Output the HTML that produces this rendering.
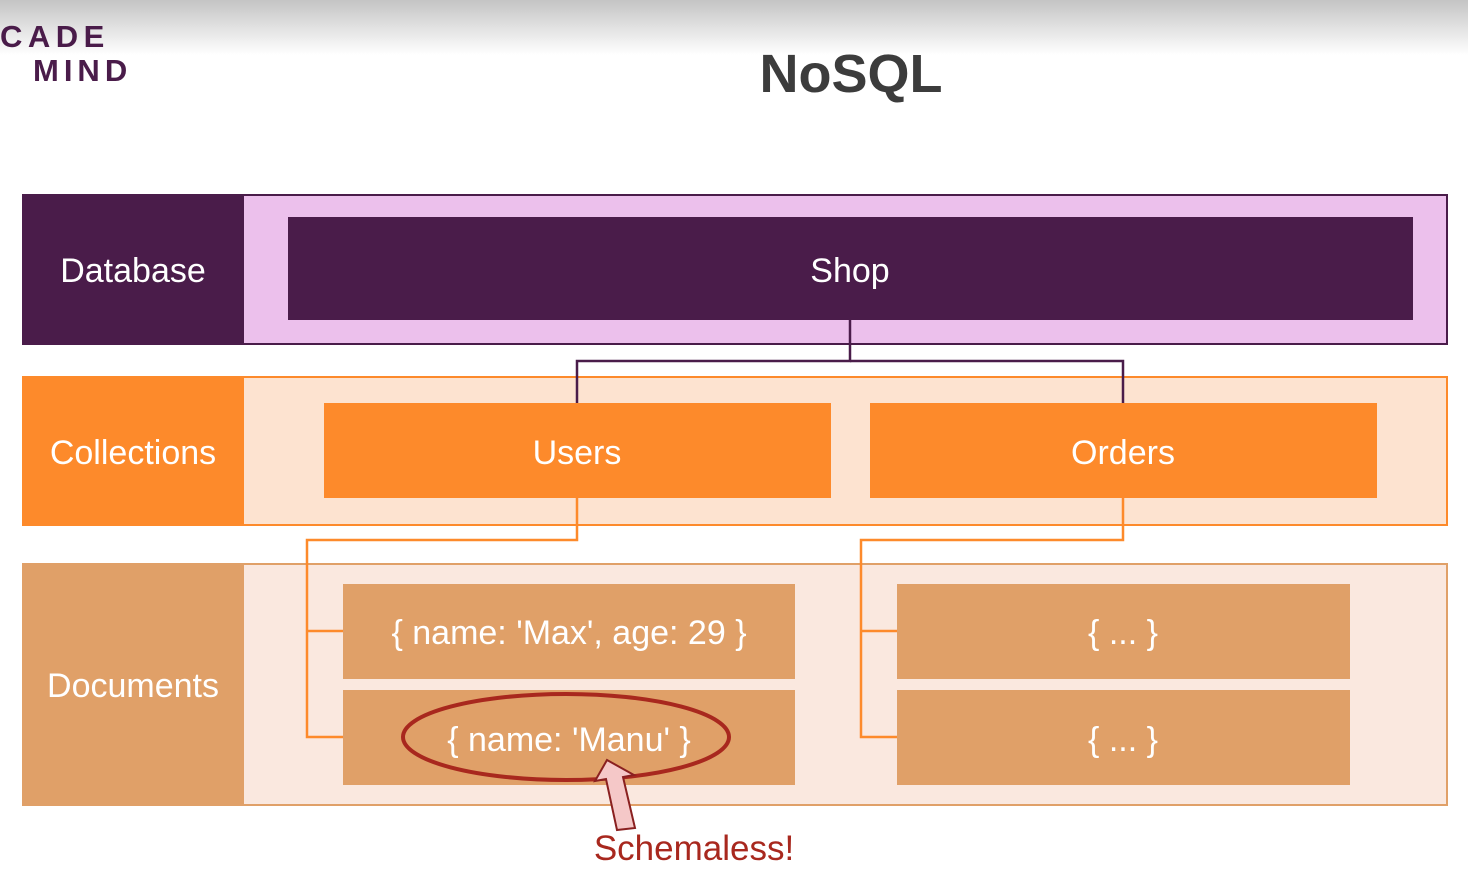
<!DOCTYPE html>
<html><head><style>
html,body{margin:0;padding:0;background:#fff;}
svg{display:block;}
text{font-family:"Liberation Sans",sans-serif;}
</style></head><body>
<svg width="1468" height="878" viewBox="0 0 1468 878" xmlns="http://www.w3.org/2000/svg">
<defs><linearGradient id="g" x1="0" y1="0" x2="0" y2="1"><stop offset="0" stop-color="#c4c4c4"/><stop offset="1" stop-color="#ffffff"/></linearGradient></defs>
<rect x="0" y="0" width="1468" height="55" fill="url(#g)"/>
<text x="0" y="47" font-size="31" font-weight="bold" fill="#4a1c4a" letter-spacing="5.5">CADE</text>
<text x="33" y="81" font-size="31" font-weight="bold" fill="#4a1c4a" letter-spacing="5">MIND</text>
<text x="851" y="92" font-size="54" font-weight="bold" fill="#3c3c3c" text-anchor="middle">NoSQL</text>

<rect x="23" y="195" width="1424" height="149" fill="#ecc0ec" stroke="#4a1c4a" stroke-width="2"/>
<rect x="22" y="194" width="222" height="151" fill="#4a1c4a"/>
<text x="133" y="282" font-size="34" fill="#fff" text-anchor="middle">Database</text>
<rect x="288" y="217" width="1125" height="103" fill="#4a1c4a"/>
<text x="850" y="282" font-size="34" fill="#fff" text-anchor="middle">Shop</text>

<rect x="23" y="377" width="1424" height="148" fill="#fde3d0" stroke="#fd8a2b" stroke-width="2"/>
<rect x="22" y="376" width="222" height="150" fill="#fd8a2b"/>
<text x="133" y="464" font-size="34" fill="#fff" text-anchor="middle">Collections</text>
<polyline points="850,320 850,361 577,361 577,403" fill="none" stroke="#4a1c4a" stroke-width="2.5"/>
<polyline points="850,361 1123,361 1123,403" fill="none" stroke="#4a1c4a" stroke-width="2.5"/>
<rect x="324" y="403" width="507" height="95" fill="#fd8a2b"/>
<text x="577" y="464" font-size="34" fill="#fff" text-anchor="middle">Users</text>
<rect x="870" y="403" width="507" height="95" fill="#fd8a2b"/>
<text x="1123" y="464" font-size="34" fill="#fff" text-anchor="middle">Orders</text>

<rect x="23" y="564" width="1424" height="241" fill="#fae8df" stroke="#e0a068" stroke-width="2"/>
<rect x="22" y="563" width="222" height="243" fill="#e0a068"/>
<text x="133" y="697" font-size="34" fill="#fff" text-anchor="middle">Documents</text>
<g fill="none" stroke="#fd8a2b" stroke-width="2.5">
<polyline points="577,498 577,540 307,540 307,737 343,737"/>
<polyline points="307,631 343,631"/>
<polyline points="1123,498 1123,540 861,540 861,737 897,737"/>
<polyline points="861,631 897,631"/>
</g>
<rect x="343" y="584" width="452" height="95" fill="#e0a068"/>
<text x="569" y="644" font-size="34" fill="#fff" text-anchor="middle">{ name: 'Max', age: 29 }</text>
<rect x="343" y="690" width="452" height="95" fill="#e0a068"/>
<text x="569" y="751" font-size="34" fill="#fff" text-anchor="middle">{ name: 'Manu' }</text>
<rect x="897" y="584" width="453" height="95" fill="#e0a068"/>
<text x="1123" y="644" font-size="34" fill="#fff" text-anchor="middle">{ ... }</text>
<rect x="897" y="690" width="453" height="95" fill="#e0a068"/>
<text x="1123" y="751" font-size="34" fill="#fff" text-anchor="middle">{ ... }</text>

<ellipse cx="566" cy="737" rx="163" ry="43" fill="none" stroke="#a8281e" stroke-width="4"/>
<polygon points="607,760 634,775 623,777 635,828 617,830 606,779 595,781" fill="#f5c8c8" stroke="#8a2020" stroke-width="2"/>
<text x="694" y="860" font-size="35" fill="#a8281e" text-anchor="middle">Schemaless!</text>
</svg>
</body></html>
